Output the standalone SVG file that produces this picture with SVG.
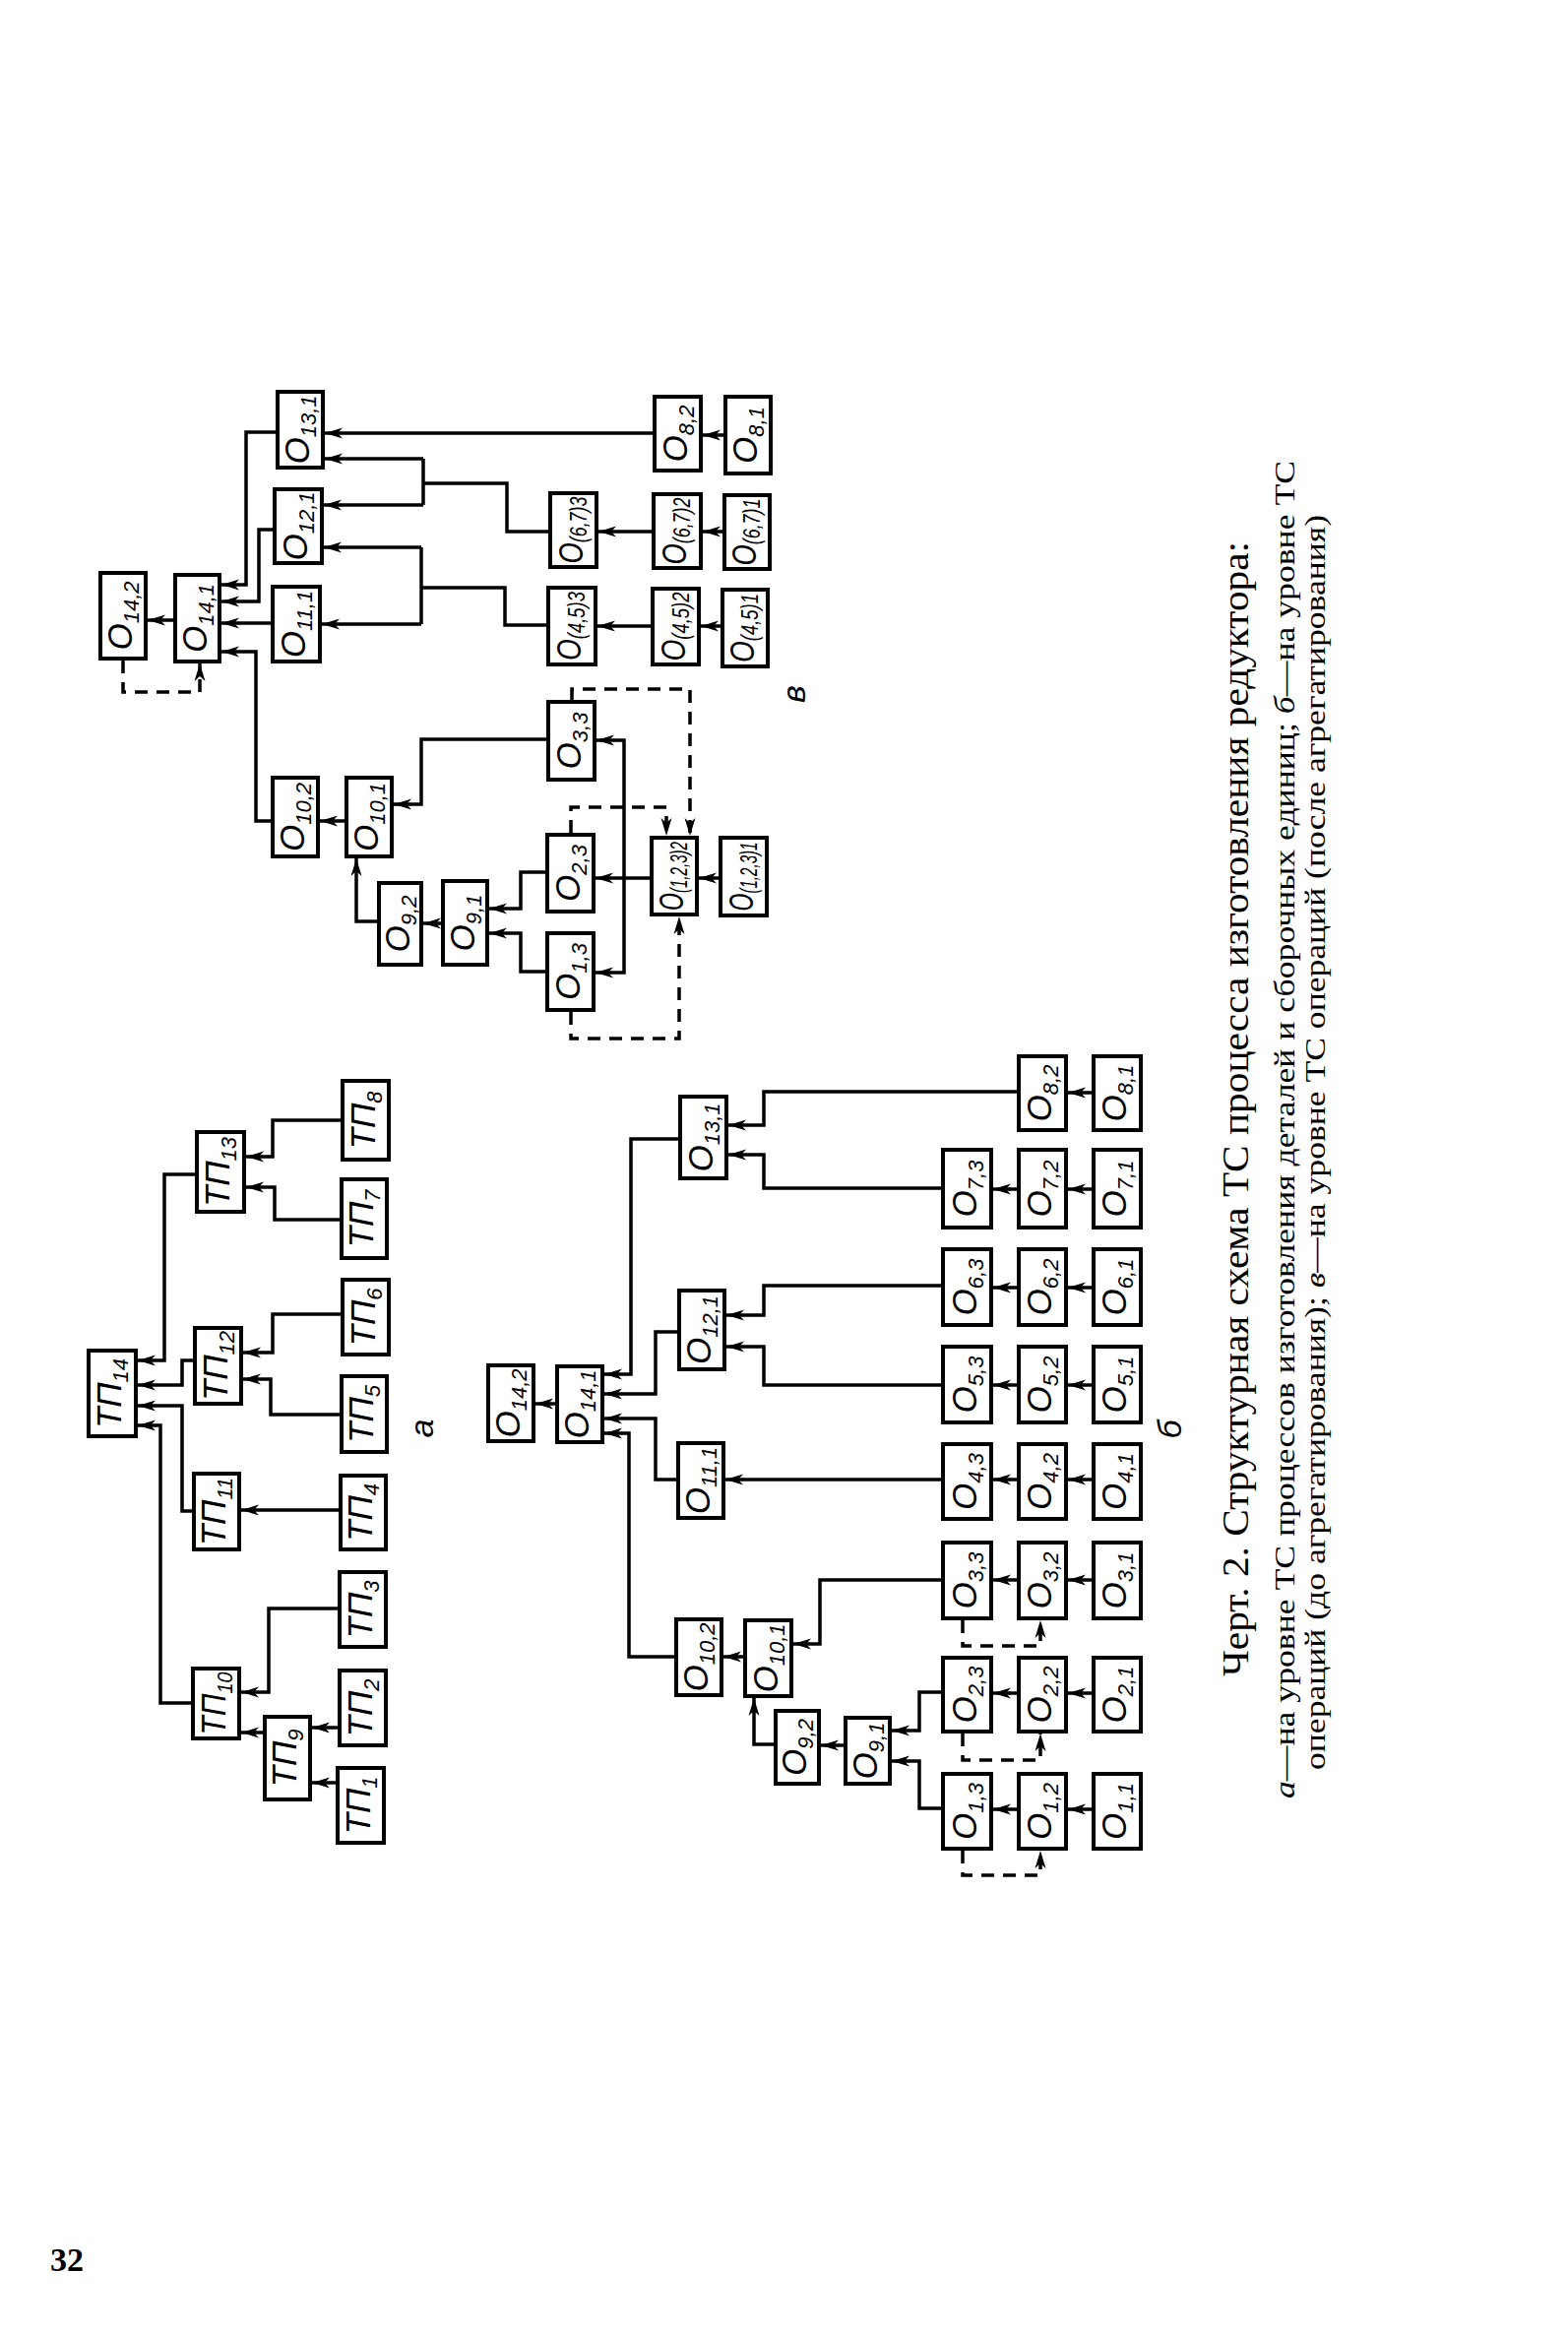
<svg xmlns="http://www.w3.org/2000/svg" width="1593" height="2370" viewBox="0 0 1593 2370">
<style>
.box{fill:#fff;stroke:#000;stroke-width:4}
.ln{fill:none;stroke:#000;stroke-width:3.5;marker-end:url(#ah)}
.pl{fill:none;stroke:#000;stroke-width:3.5}
.dl{fill:none;stroke:#000;stroke-width:3.5;stroke-dasharray:13 9;marker-end:url(#ah)}
.lb{font-family:"Liberation Sans",Arial,sans-serif;font-style:italic;font-size:35px;text-anchor:middle;fill:#000}
.sb{font-size:22px}
.ss{font-size:23px}
.pt{font-family:"Liberation Sans",Arial,sans-serif;font-style:italic;font-size:34px;text-anchor:middle;fill:#000}
.cap{font-family:"Liberation Serif","Times New Roman",serif;fill:#000}
</style>
<defs>
<marker id="ah" markerUnits="userSpaceOnUse" markerWidth="20" markerHeight="14" refX="18" refY="7" orient="auto">
<path d="M0,1.5 L18,7 L0,12.5 L5,7 Z" fill="#000"/>
</marker>
</defs>
<rect width="1593" height="2370" fill="#fff"/>

<!-- connectors -->
<g id="connectors">
<!-- part a -->
<polyline class="ln" points="200,1193 167,1193 167,1382 140,1382"/>
<polyline class="ln" points="198,1382 185,1382 185,1407 140,1407"/>
<polyline class="ln" points="197,1535 185,1535 185,1428 140,1428"/>
<polyline class="ln" points="196,1730 163,1730 163,1448 140,1448"/>
<polyline class="ln" points="348,1138 277,1138 277,1175 250,1175"/>
<polyline class="ln" points="347,1239 279,1239 279,1206 250,1206"/>
<polyline class="ln" points="348,1335 277,1335 277,1374 247,1374"/>
<polyline class="ln" points="347,1437 275,1437 275,1401 247,1401"/>
<polyline class="ln" points="346,1534 245,1534"/>
<polyline class="ln" points="345,1634 273,1634 273,1719 245,1719"/>
<polyline class="ln" points="345,1755 317,1755"/>
<polyline class="ln" points="343,1811 317,1811"/>
<polyline class="ln" points="269,1760 245,1760"/>
<!-- part v -->
<polyline class="ln" points="178,630 150,630"/>
<polyline class="dl" points="125,671 125,703 203,703 203,674"/>
<polyline class="ln" points="282,439 250,439 250,594 225,594"/>
<polyline class="ln" points="279,538 263,538 263,611 225,611"/>
<polyline class="ln" points="277,633 225,633"/>
<polyline class="ln" points="277,834 260,834 260,662 225,662"/>
<polyline class="ln" points="352,834 325,834"/>
<polyline class="ln" points="385,936 362,936 362,872"/>
<polyline class="ln" points="450,938 430,938"/>
<polyline class="ln" points="557,751 428,751 428,817 400,817"/>
<polyline class="ln" points="556,886 529,886 529,923 497,923"/>
<polyline class="ln" points="556,987 529,987 529,948 497,948"/>
<polyline class="ln" points="732,892 710,892"/>
<polyline class="ln" points="662,892 605,892"/>
<polyline class="ln" points="634,892 634,752 606,752"/>
<polyline class="ln" points="634,892 634,988 605,988"/>
<polyline class="dl" points="581,711 581,700 701,700 701,849"/>
<polyline class="dl" points="580,846 580,820 677,820 677,849"/>
<polyline class="dl" points="580,1028 580,1055 690,1055 690,931"/>
<polyline class="ln" points="737,442 714,442"/>
<polyline class="ln" points="665,440 330,440"/>
<polyline class="ln" points="736,540 714,540"/>
<polyline class="ln" points="664,540 608,540"/>
<polyline class="pl" points="559,540 515,540 515,491 430,491"/>
<polyline class="pl" points="430,466 430,513"/>
<polyline class="ln" points="430,466 330,466"/>
<polyline class="ln" points="430,513 329,513"/>
<polyline class="ln" points="734,636 712,636"/>
<polyline class="ln" points="663,636 607,636"/>
<polyline class="pl" points="557,635 513,635 513,597 428,597"/>
<polyline class="pl" points="428,556 428,634"/>
<polyline class="ln" points="428,556 329,556"/>
<polyline class="ln" points="428,634 327,634"/>
<!-- part b -->
<polyline class="ln" points="1111,1110 1085,1110"/>
<polyline class="ln" points="1035,1109 776,1109 776,1143 740,1143"/>
<polyline class="ln" points="1111,1208 1085,1208"/>
<polyline class="ln" points="1035,1208 1009,1208"/>
<polyline class="ln" points="958,1207 776,1207 776,1173 740,1173"/>
<polyline class="ln" points="691,1157 641,1157 641,1396 614,1396"/>
<polyline class="ln" points="1111,1308 1085,1308"/>
<polyline class="ln" points="1035,1308 1009,1308"/>
<polyline class="ln" points="958,1306 776,1306 776,1336 738,1336"/>
<polyline class="ln" points="1111,1407 1085,1407"/>
<polyline class="ln" points="1035,1407 1009,1407"/>
<polyline class="ln" points="958,1407 776,1407 776,1368 738,1368"/>
<polyline class="ln" points="690,1353 666,1353 666,1416 614,1416"/>
<polyline class="ln" points="1111,1503 1085,1503"/>
<polyline class="ln" points="1035,1503 1009,1503"/>
<polyline class="ln" points="958,1503 737,1503"/>
<polyline class="ln" points="689,1503 666,1503 666,1441 614,1441"/>
<polyline class="ln" points="687,1683 639,1683 639,1456 614,1456"/>
<polyline class="ln" points="566,1426 544,1426"/>
<polyline class="ln" points="1111,1605 1085,1605"/>
<polyline class="ln" points="1035,1605 1009,1605"/>
<polyline class="ln" points="958,1605 833,1605 833,1670 806,1670"/>
<polyline class="ln" points="757,1683 735,1683"/>
<polyline class="ln" points="788,1772 766,1772 766,1725"/>
<polyline class="ln" points="859,1773 834,1773"/>
<polyline class="ln" points="1111,1720 1085,1720"/>
<polyline class="ln" points="1035,1720 1009,1720"/>
<polyline class="ln" points="958,1719 934,1719 934,1758 906,1758"/>
<polyline class="ln" points="1111,1838 1085,1838"/>
<polyline class="ln" points="1035,1838 1009,1838"/>
<polyline class="ln" points="958,1837 934,1837 934,1789 906,1789"/>
<polyline class="dl" points="978,1646 978,1672 1057,1672 1057,1646"/>
<polyline class="dl" points="978,1761 978,1788 1057,1788 1057,1761"/>
<polyline class="dl" points="978,1880 978,1905 1057,1905 1057,1880"/>
</g>

<!-- part a nodes -->
<g id="a-tp14"><rect class="box" x="90" y="1372" width="48" height="87"/><text class="lb" transform="translate(123,1415.5) rotate(-90)">ТП<tspan class="sb" dy="7">14</tspan></text></g>
<g id="a-tp13"><rect class="box" x="200" y="1150" width="48" height="81"/><text class="lb" transform="translate(233,1190.5) rotate(-90)">ТП<tspan class="sb" dy="7">13</tspan></text></g>
<g id="a-tp12"><rect class="box" x="198" y="1349" width="47" height="77"/><text class="lb" transform="translate(230.5,1387.5) rotate(-90)">ТП<tspan class="sb" dy="7">12</tspan></text></g>
<g id="a-tp11"><rect class="box" x="197" y="1497" width="46" height="77"/><text class="lb" transform="translate(229,1535.5) rotate(-90)">ТП<tspan class="sb" dy="7">11</tspan></text></g>
<g id="a-tp10"><rect class="box" x="196" y="1695" width="47" height="71"/><text class="lb" transform="translate(228.5,1730.5) rotate(-90)" textLength="64" lengthAdjust="spacingAndGlyphs">ТП<tspan class="sb" dy="7">10</tspan></text></g>
<g id="a-tp9"><rect class="box" x="269" y="1744" width="46" height="84"/><text class="lb" transform="translate(301,1786) rotate(-90)">ТП<tspan class="sb" dy="7">9</tspan></text></g>
<g id="a-tp8"><rect class="box" x="348" y="1098" width="47" height="80"/><text class="lb" transform="translate(380.5,1138) rotate(-90)">ТП<tspan class="sb" dy="7">8</tspan></text></g>
<g id="a-tp7"><rect class="box" x="347" y="1198" width="46" height="80"/><text class="lb" transform="translate(379,1238) rotate(-90)">ТП<tspan class="sb" dy="7">7</tspan></text></g>
<g id="a-tp6"><rect class="box" x="348" y="1300" width="47" height="76"/><text class="lb" transform="translate(380.5,1338) rotate(-90)">ТП<tspan class="sb" dy="7">6</tspan></text></g>
<g id="a-tp5"><rect class="box" x="347" y="1398" width="46" height="77"/><text class="lb" transform="translate(379,1436.5) rotate(-90)">ТП<tspan class="sb" dy="7">5</tspan></text></g>
<g id="a-tp4"><rect class="box" x="346" y="1499" width="46" height="75"/><text class="lb" transform="translate(378,1536.5) rotate(-90)">ТП<tspan class="sb" dy="7">4</tspan></text></g>
<g id="a-tp3"><rect class="box" x="345" y="1597" width="47" height="76"/><text class="lb" transform="translate(377.5,1635) rotate(-90)">ТП<tspan class="sb" dy="7">3</tspan></text></g>
<g id="a-tp2"><rect class="box" x="345" y="1697" width="47" height="76"/><text class="lb" transform="translate(377.5,1735) rotate(-90)">ТП<tspan class="sb" dy="7">2</tspan></text></g>
<g id="a-tp1"><rect class="box" x="343" y="1796" width="47" height="76"/><text class="lb" transform="translate(375.5,1834) rotate(-90)">ТП<tspan class="sb" dy="7">1</tspan></text></g>
<text class="pt" transform="translate(440,1451) rotate(-90)">а</text>

<!-- part v nodes -->
<g id="v-o14-2"><rect class="box" x="102" y="582" width="46" height="87"/><text class="lb" transform="translate(134,625.5) rotate(-90)">О<tspan class="sb" dy="7">14,2</tspan></text></g>
<g id="v-o14-1"><rect class="box" x="178" y="584" width="45" height="88"/><text class="lb" transform="translate(209.5,628) rotate(-90)">О<tspan class="sb" dy="7">14,1</tspan></text></g>
<g id="v-o13-1"><rect class="box" x="282" y="398" width="46" height="77"/><text class="lb" transform="translate(314,436.5) rotate(-90)">О<tspan class="sb" dy="7">13,1</tspan></text></g>
<g id="v-o12-1"><rect class="box" x="279" y="497" width="48" height="75"/><text class="lb" transform="translate(312,534.5) rotate(-90)">О<tspan class="sb" dy="7">12,1</tspan></text></g>
<g id="v-o11-1"><rect class="box" x="277" y="596" width="48" height="76"/><text class="lb" transform="translate(310,634) rotate(-90)">О<tspan class="sb" dy="7">11,1</tspan></text></g>
<g id="v-o10-2"><rect class="box" x="277" y="790" width="46" height="80"/><text class="lb" transform="translate(309,830) rotate(-90)">О<tspan class="sb" dy="7">10,2</tspan></text></g>
<g id="v-o10-1"><rect class="box" x="352" y="790" width="46" height="80"/><text class="lb" transform="translate(384,830) rotate(-90)">О<tspan class="sb" dy="7">10,1</tspan></text></g>
<g id="v-o9-2"><rect class="box" x="385" y="897" width="43" height="83"/><text class="lb" transform="translate(415.5,938.5) rotate(-90)">О<tspan class="sb" dy="7">9,2</tspan></text></g>
<g id="v-o9-1"><rect class="box" x="450" y="895" width="45" height="85"/><text class="lb" transform="translate(481.5,937.5) rotate(-90)">О<tspan class="sb" dy="7">9,1</tspan></text></g>
<g id="v-o3-3"><rect class="box" x="557" y="713" width="47" height="79"/><text class="lb" transform="translate(589.5,752.5) rotate(-90)">О<tspan class="sb" dy="7">3,3</tspan></text></g>
<g id="v-o2-3"><rect class="box" x="556" y="848" width="47" height="78"/><text class="lb" transform="translate(588.5,887) rotate(-90)">О<tspan class="sb" dy="7">2,3</tspan></text></g>
<g id="v-o1-3"><rect class="box" x="556" y="948" width="47" height="78"/><text class="lb" transform="translate(588.5,987) rotate(-90)">О<tspan class="sb" dy="7">1,3</tspan></text></g>
<g id="v-o123-2"><rect class="box" x="662" y="851" width="46" height="78"/><text class="lb" transform="translate(694,890) rotate(-90)" textLength="70" lengthAdjust="spacingAndGlyphs">О<tspan class="ss" dy="4">(1,2,3)2</tspan></text></g>
<g id="v-o123-1"><rect class="box" x="732" y="851" width="47" height="79"/><text class="lb" transform="translate(764.5,890.5) rotate(-90)" textLength="70" lengthAdjust="spacingAndGlyphs">О<tspan class="ss" dy="4">(1,2,3)1</tspan></text></g>
<g id="v-o45-3"><rect class="box" x="557" y="597" width="48" height="78"/><text class="lb" transform="translate(590,636) rotate(-90)" textLength="70" lengthAdjust="spacingAndGlyphs">О<tspan class="ss" dy="4">(4,5)3</tspan></text></g>
<g id="v-o45-2"><rect class="box" x="663" y="598" width="47" height="77"/><text class="lb" transform="translate(695.5,636.5) rotate(-90)" textLength="70" lengthAdjust="spacingAndGlyphs">О<tspan class="ss" dy="4">(4,5)2</tspan></text></g>
<g id="v-o45-1"><rect class="box" x="734" y="599" width="46" height="78"/><text class="lb" transform="translate(766,638) rotate(-90)" textLength="70" lengthAdjust="spacingAndGlyphs">О<tspan class="ss" dy="4">(4,5)1</tspan></text></g>
<g id="v-o67-3"><rect class="box" x="559" y="501" width="47" height="75"/><text class="lb" transform="translate(591.5,538.5) rotate(-90)" textLength="68" lengthAdjust="spacingAndGlyphs">О<tspan class="ss" dy="4">(6,7)3</tspan></text></g>
<g id="v-o67-2"><rect class="box" x="664" y="502" width="48" height="75"/><text class="lb" transform="translate(697,539.5) rotate(-90)" textLength="68" lengthAdjust="spacingAndGlyphs">О<tspan class="ss" dy="4">(6,7)2</tspan></text></g>
<g id="v-o67-1"><rect class="box" x="736" y="503" width="46" height="75"/><text class="lb" transform="translate(768,540.5) rotate(-90)" textLength="68" lengthAdjust="spacingAndGlyphs">О<tspan class="ss" dy="4">(6,7)1</tspan></text></g>
<g id="v-o8-2"><rect class="box" x="665" y="403" width="47" height="75"/><text class="lb" transform="translate(697.5,440.5) rotate(-90)">О<tspan class="sb" dy="7">8,2</tspan></text></g>
<g id="v-o8-1"><rect class="box" x="737" y="403" width="46" height="78"/><text class="lb" transform="translate(769,442) rotate(-90)">О<tspan class="sb" dy="7">8,1</tspan></text></g>
<text class="pt" transform="translate(818,705) rotate(-90)">в</text>

<!-- part b nodes -->
<g id="b-o14-2"><rect class="box" x="496" y="1387" width="46" height="77"/><text class="lb" transform="translate(528,1425.5) rotate(-90)">О<tspan class="sb" dy="7">14,2</tspan></text></g>
<g id="b-o14-1"><rect class="box" x="566" y="1388" width="46" height="77"/><text class="lb" transform="translate(598,1426.5) rotate(-90)">О<tspan class="sb" dy="7">14,1</tspan></text></g>
<g id="b-o13-1"><rect class="box" x="691" y="1114" width="47" height="83"/><text class="lb" transform="translate(723.5,1155.5) rotate(-90)">О<tspan class="sb" dy="7">13,1</tspan></text></g>
<g id="b-o12-1"><rect class="box" x="690" y="1311" width="46" height="80"/><text class="lb" transform="translate(722,1351) rotate(-90)">О<tspan class="sb" dy="7">12,1</tspan></text></g>
<g id="b-o11-1"><rect class="box" x="689" y="1466" width="46" height="76"/><text class="lb" transform="translate(721,1504) rotate(-90)">О<tspan class="sb" dy="7">11,1</tspan></text></g>
<g id="b-o10-2"><rect class="box" x="687" y="1645" width="46" height="77"/><text class="lb" transform="translate(719,1683.5) rotate(-90)">О<tspan class="sb" dy="7">10,2</tspan></text></g>
<g id="b-o10-1"><rect class="box" x="757" y="1646" width="47" height="77"/><text class="lb" transform="translate(789.5,1684.5) rotate(-90)">О<tspan class="sb" dy="7">10,1</tspan></text></g>
<g id="b-o9-2"><rect class="box" x="788" y="1738" width="44" height="74"/><text class="lb" transform="translate(819,1775) rotate(-90)">О<tspan class="sb" dy="7">9,2</tspan></text></g>
<g id="b-o9-1"><rect class="box" x="859" y="1745" width="45" height="67"/><text class="lb" transform="translate(890.5,1778.5) rotate(-90)">О<tspan class="sb" dy="7">9,1</tspan></text></g>
<g id="b-o8-2"><rect class="box" x="1035" y="1073" width="48" height="75"/><text class="lb" transform="translate(1068,1110.5) rotate(-90)">О<tspan class="sb" dy="7">8,2</tspan></text></g>
<g id="b-o8-1"><rect class="box" x="1111" y="1073" width="48" height="75"/><text class="lb" transform="translate(1144,1110.5) rotate(-90)">О<tspan class="sb" dy="7">8,1</tspan></text></g>
<g id="b-o7-3"><rect class="box" x="958" y="1168" width="49" height="79"/><text class="lb" transform="translate(991.5,1207.5) rotate(-90)">О<tspan class="sb" dy="7">7,3</tspan></text></g>
<g id="b-o7-2"><rect class="box" x="1035" y="1168" width="48" height="79"/><text class="lb" transform="translate(1068,1207.5) rotate(-90)">О<tspan class="sb" dy="7">7,2</tspan></text></g>
<g id="b-o7-1"><rect class="box" x="1111" y="1168" width="48" height="79"/><text class="lb" transform="translate(1144,1207.5) rotate(-90)">О<tspan class="sb" dy="7">7,1</tspan></text></g>
<g id="b-o6-3"><rect class="box" x="958" y="1269" width="49" height="77"/><text class="lb" transform="translate(991.5,1307.5) rotate(-90)">О<tspan class="sb" dy="7">6,3</tspan></text></g>
<g id="b-o6-2"><rect class="box" x="1035" y="1269" width="48" height="77"/><text class="lb" transform="translate(1068,1307.5) rotate(-90)">О<tspan class="sb" dy="7">6,2</tspan></text></g>
<g id="b-o6-1"><rect class="box" x="1111" y="1269" width="48" height="77"/><text class="lb" transform="translate(1144,1307.5) rotate(-90)">О<tspan class="sb" dy="7">6,1</tspan></text></g>
<g id="b-o5-3"><rect class="box" x="958" y="1368" width="49" height="77"/><text class="lb" transform="translate(991.5,1406.5) rotate(-90)">О<tspan class="sb" dy="7">5,3</tspan></text></g>
<g id="b-o5-2"><rect class="box" x="1035" y="1368" width="48" height="77"/><text class="lb" transform="translate(1068,1406.5) rotate(-90)">О<tspan class="sb" dy="7">5,2</tspan></text></g>
<g id="b-o5-1"><rect class="box" x="1111" y="1368" width="48" height="77"/><text class="lb" transform="translate(1144,1406.5) rotate(-90)">О<tspan class="sb" dy="7">5,1</tspan></text></g>
<g id="b-o4-3"><rect class="box" x="958" y="1467" width="49" height="76"/><text class="lb" transform="translate(991.5,1505) rotate(-90)">О<tspan class="sb" dy="7">4,3</tspan></text></g>
<g id="b-o4-2"><rect class="box" x="1035" y="1467" width="48" height="76"/><text class="lb" transform="translate(1068,1505) rotate(-90)">О<tspan class="sb" dy="7">4,2</tspan></text></g>
<g id="b-o4-1"><rect class="box" x="1111" y="1467" width="48" height="76"/><text class="lb" transform="translate(1144,1505) rotate(-90)">О<tspan class="sb" dy="7">4,1</tspan></text></g>
<g id="b-o3-3"><rect class="box" x="958" y="1567" width="49" height="77"/><text class="lb" transform="translate(991.5,1605.5) rotate(-90)">О<tspan class="sb" dy="7">3,3</tspan></text></g>
<g id="b-o3-2"><rect class="box" x="1035" y="1567" width="48" height="77"/><text class="lb" transform="translate(1068,1605.5) rotate(-90)">О<tspan class="sb" dy="7">3,2</tspan></text></g>
<g id="b-o3-1"><rect class="box" x="1111" y="1567" width="48" height="77"/><text class="lb" transform="translate(1144,1605.5) rotate(-90)">О<tspan class="sb" dy="7">3,1</tspan></text></g>
<g id="b-o2-3"><rect class="box" x="958" y="1684" width="49" height="75"/><text class="lb" transform="translate(991.5,1721.5) rotate(-90)">О<tspan class="sb" dy="7">2,3</tspan></text></g>
<g id="b-o2-2"><rect class="box" x="1035" y="1684" width="48" height="75"/><text class="lb" transform="translate(1068,1721.5) rotate(-90)">О<tspan class="sb" dy="7">2,2</tspan></text></g>
<g id="b-o2-1"><rect class="box" x="1111" y="1684" width="48" height="75"/><text class="lb" transform="translate(1144,1721.5) rotate(-90)">О<tspan class="sb" dy="7">2,1</tspan></text></g>
<g id="b-o1-3"><rect class="box" x="958" y="1802" width="49" height="76"/><text class="lb" transform="translate(991.5,1840) rotate(-90)">О<tspan class="sb" dy="7">1,3</tspan></text></g>
<g id="b-o1-2"><rect class="box" x="1035" y="1802" width="48" height="76"/><text class="lb" transform="translate(1068,1840) rotate(-90)">О<tspan class="sb" dy="7">1,2</tspan></text></g>
<g id="b-o1-1"><rect class="box" x="1111" y="1802" width="48" height="76"/><text class="lb" transform="translate(1144,1840) rotate(-90)">О<tspan class="sb" dy="7">1,1</tspan></text></g>
<text class="pt" transform="translate(1200,1452) rotate(-90)">б</text>

<!-- caption -->
<g id="caption">
<text class="cap" font-size="38" transform="translate(1268,1703) rotate(-90)" textLength="1153" lengthAdjust="spacingAndGlyphs">Черт. 2. Структурная схема ТС процесса изготовления редуктора:</text>
<text class="cap" font-size="30" transform="translate(1315,1827) rotate(-90)" textLength="1359" lengthAdjust="spacingAndGlyphs"><tspan font-style="italic">а</tspan>—на уровне ТС процессов изготовления деталей и сборочных единиц; <tspan font-style="italic">б</tspan>—на уровне ТС</text>
<text class="cap" font-size="30" transform="translate(1346,1798) rotate(-90)" textLength="1275" lengthAdjust="spacingAndGlyphs">операций (до агрегатирования); <tspan font-style="italic">в</tspan>—на уровне ТС операций (после агрегатирования)</text>
</g>
<text class="cap" font-size="34" font-weight="bold" x="51" y="2307">32</text>
</svg>
